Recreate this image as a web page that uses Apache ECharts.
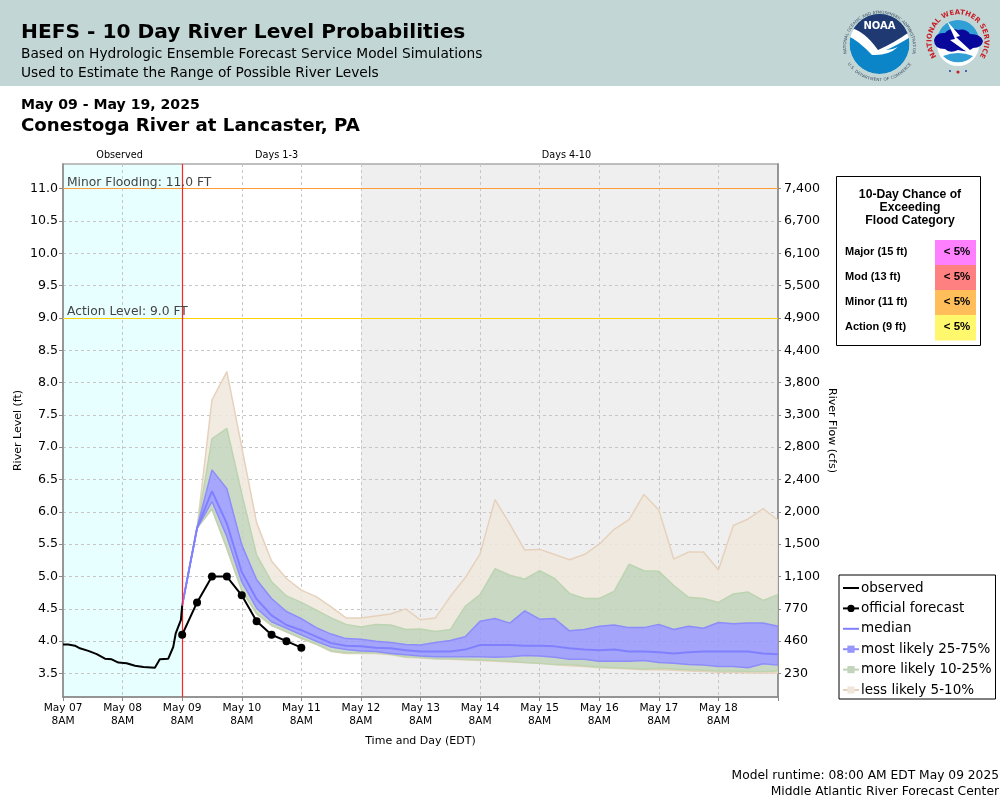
<!DOCTYPE html>
<html>
<head>
<meta charset="utf-8">
<title>HEFS</title>
<script src="https://cdn.jsdelivr.net/npm/echarts@6/dist/echarts.min.js"></script>
<style>
html, body { margin: 0; padding: 0; background: #fff; }
#wrap { position: relative; width: 1000px; height: 800px; overflow: hidden; }
#main { width: 1000px; height: 800px; }
#logos { position: absolute; left: 800px; top: 0; }
</style>
</head>
<body>
<div id="wrap">
<div id="main"></div>
<svg id="logos" width="200" height="86" viewBox="800 0 200 86">
  <defs>
    <clipPath id="noaaClip"><circle cx="879.5" cy="44" r="30"/></clipPath>
    <path id="noaaTop" d="M 850 63 A 33.5 33.5 0 1 1 909 63"/>
    <path id="noaaBot" d="M 849 60 A 35 35 0 0 0 910 60"/>
    <path id="nwsTop" d="M 936.2 56 A 26.5 26.5 0 1 1 979.8 56"/>
  </defs>
  <g clip-path="url(#noaaClip)">
    <circle cx="879.5" cy="44" r="30" fill="#0b85c8"/>
    <path d="M 848 14 H 911 V 34 Q 900 40 878 52 Q 862 34 848 27 Z" fill="#1f3a72"/>
    <path d="M 848 27 Q 864 30 878 50 Q 896 42 912 30 L 912 36 Q 896 46 886 50 Q 892 50 898 47 Q 888 56 872 55 Q 858 40 848 36 Z" fill="#fff"/>
  </g>
  <text x="879.5" y="29" text-anchor="middle" font-family="DejaVu Sans" font-weight="bold" font-size="10" fill="#fff">NOAA</text>
  <text font-family="DejaVu Sans" font-size="4.1" fill="#3d4a66"><textPath href="#noaaTop" startOffset="50%" text-anchor="middle">NATIONAL OCEANIC AND ATMOSPHERIC ADMINISTRATION</textPath></text>
  <text font-family="DejaVu Sans" font-size="4.1" fill="#3d4a66"><textPath href="#noaaBot" startOffset="50%" text-anchor="middle" dominant-baseline="hanging">U.S. DEPARTMENT OF COMMERCE</textPath></text>

  <circle cx="958" cy="41" r="21" fill="#2f9fd6"/>
  <path d="M 937 45 A 21 21 0 0 0 979 45 Z" fill="#fff"/>
  <path d="M 943 56 A 21 21 0 0 0 973 56 Q 958 50 943 56 Z" fill="#2f9fd6"/>
  <path d="M 934 40 Q 936 32 945 33 Q 950 27 958 30 Q 966 28 970 34 Q 981 34 983 41 Q 982 48 973 48 Q 968 53 958 50 Q 950 54 945 49 Q 934 49 934 40 Z" fill="#08089a"/>
  <path d="M 947 21 L 960 36 L 956 37 L 970 50 L 975 56 L 964 50 L 950 40 L 955 39 Z" fill="#fff"/>
  <text font-family="DejaVu Sans" font-weight="bold" font-size="7" fill="#c8202a"><textPath href="#nwsTop" startOffset="50%" text-anchor="middle">NATIONAL WEATHER SERVICE</textPath></text>
  <circle cx="950" cy="71" r="1" fill="#1f3a9c"/>
  <circle cx="966" cy="71" r="1" fill="#1f3a9c"/>
  <circle cx="958" cy="72" r="1.6" fill="#c8202a"/>
</svg>
</div>
<script>
// river level values, forecast steps are 6 hours from May 09 8AM
var dayLabels = ['May 07\n8AM', 'May 08\n8AM', 'May 09\n8AM', 'May 10\n8AM', 'May 11\n8AM', 'May 12\n8AM', 'May 13\n8AM', 'May 14\n8AM', 'May 15\n8AM', 'May 16\n8AM', 'May 17\n8AM', 'May 18\n8AM'];
var levelTicks = [3.5, 4, 4.5, 5, 5.5, 6, 6.5, 7, 7.5, 8, 8.5, 9, 9.5, 10, 10.5, 11];
var flowTicks = ['230', '460', '770', '1,100', '1,500', '2,000', '2,400', '2,800', '3,300', '3,800', '4,400', '4,900', '5,500', '6,100', '6,700', '7,400'];

var obsHours = [0, 2.1, 4.8, 6.8, 10.2, 13.6, 16.9, 19.6, 22.3, 25.6, 29, 32.4, 37, 37.5, 39, 42.4, 44.4, 45.4, 47.5, 48];
var obsLevel = [3.95, 3.95, 3.93, 3.89, 3.85, 3.80, 3.73, 3.72, 3.67, 3.66, 3.62, 3.60, 3.59, 3.57, 3.72, 3.73, 3.91, 4.12, 4.33, 4.55];

var officialLevel = [4.10, 4.60, 5.00, 5.00, 4.71, 4.31, 4.10, 4.00, 3.90];

var q95 = [4.55, 5.75, 7.73, 8.17, 7.00, 5.83, 5.24, 4.97, 4.79, 4.69, 4.53, 4.36, 4.36, 4.39, 4.42, 4.50, 4.33, 4.36, 4.69, 4.98, 5.35, 6.19, 5.81, 5.41, 5.42, 5.34, 5.26, 5.34, 5.50, 5.73, 5.88, 6.27, 6.03, 5.27, 5.38, 5.38, 5.10, 5.79, 5.89, 6.05, 5.87];
var q90 = [4.55, 5.75, 7.13, 7.29, 6.28, 5.33, 4.92, 4.70, 4.60, 4.48, 4.36, 4.26, 4.22, 4.26, 4.25, 4.18, 4.19, 4.15, 4.18, 4.54, 4.72, 5.12, 5.02, 4.96, 5.09, 4.97, 4.74, 4.66, 4.66, 4.77, 5.19, 5.09, 5.08, 4.86, 4.68, 4.66, 4.60, 4.73, 4.76, 4.63, 4.72];
var q75 = [4.55, 5.75, 6.65, 6.36, 5.49, 4.95, 4.66, 4.46, 4.35, 4.21, 4.11, 4.04, 4.03, 4.00, 3.98, 3.95, 3.94, 3.98, 4.01, 4.07, 4.31, 4.35, 4.28, 4.47, 4.34, 4.35, 4.16, 4.18, 4.23, 4.25, 4.21, 4.21, 4.26, 4.18, 4.23, 4.20, 4.29, 4.27, 4.28, 4.28, 4.23];
var median = [4.55, 5.75, 6.32, 5.82, 5.07, 4.65, 4.40, 4.25, 4.17, 4.07, 3.97, 3.93, 3.92, 3.90, 3.89, 3.86, 3.84, 3.84, 3.84, 3.87, 3.94, 3.94, 3.94, 3.93, 3.93, 3.92, 3.89, 3.87, 3.86, 3.87, 3.84, 3.84, 3.83, 3.81, 3.83, 3.84, 3.84, 3.84, 3.84, 3.81, 3.80];
var q25 = [4.55, 5.75, 6.16, 5.62, 4.92, 4.51, 4.30, 4.20, 4.10, 4.00, 3.91, 3.87, 3.85, 3.84, 3.81, 3.79, 3.77, 3.76, 3.76, 3.76, 3.76, 3.75, 3.76, 3.78, 3.77, 3.75, 3.72, 3.72, 3.69, 3.69, 3.69, 3.70, 3.67, 3.66, 3.64, 3.63, 3.61, 3.61, 3.59, 3.65, 3.63];
var q10 = [4.55, 5.75, 6.05, 5.44, 4.79, 4.43, 4.25, 4.15, 4.05, 3.96, 3.85, 3.82, 3.82, 3.82, 3.80, 3.76, 3.75, 3.73, 3.73, 3.72, 3.71, 3.70, 3.69, 3.67, 3.66, 3.64, 3.64, 3.62, 3.60, 3.59, 3.58, 3.57, 3.58, 3.57, 3.56, 3.55, 3.54, 3.54, 3.53, 3.53, 3.54];
var q05 = [4.55, 5.75, 6.04, 5.43, 4.78, 4.42, 4.24, 4.14, 4.04, 3.95, 3.84, 3.81, 3.81, 3.81, 3.79, 3.75, 3.74, 3.73, 3.72, 3.71, 3.70, 3.69, 3.68, 3.67, 3.66, 3.64, 3.62, 3.61, 3.59, 3.58, 3.57, 3.56, 3.56, 3.55, 3.54, 3.53, 3.52, 3.52, 3.51, 3.51, 3.51];

var floodNames = ['Major (15 ft)', 'Mod (13 ft)', 'Minor (11 ft)', 'Action (9 ft)'];
var floodChance = ['< 5%', '< 5%', '< 5%', '< 5%'];
var floodColors = ['#ff80ff', '#ff8080', '#ffbe5a', '#fff76c'];

var SANS = 'DejaVu Sans';
var ARIAL = 'Liberation Sans';
var TAN = '#f0e7dc', GREEN = '#c2d4bb', BLUE = '#9696fc';
var TAN_LINE = '#e6d2bc', GREEN_LINE = '#bcd4b0', BLUE_LINE = '#8c8cfb';
var GRID = '#c6c6c6';

function fcHour(i) { return 48 + 6 * i; }
function pts(arr) {
    return arr.map(function (v, i) { return [fcHour(i), v]; });
}
// one polygon between two level lists, drawn once through the axis scales
function fill(name, top, bot, color) {
    return {
        name: name, type: 'custom', silent: true, z: 3,
        data: top.map(function (v, i) { return [fcHour(i), v, bot[i]]; }),
        encode: { x: 0, y: [1, 2] },
        renderItem: function (params, api) {
            if (params.dataIndex !== 0) { return; }
            var upper = top.map(function (v, i) { return api.coord([fcHour(i), v]); });
            var lower = bot.map(function (v, i) { return api.coord([fcHour(i), v]); }).reverse();
            return {
                type: 'polygon',
                shape: { points: upper.concat(lower) },
                style: { fill: color, opacity: 0.85 }
            };
        }
    };
}
function edge(name, arr, color, swatch, width) {
    return {
        name: name, type: 'line', symbol: swatch ? 'rect' : 'none', showSymbol: false,
        data: pts(arr),
        lineStyle: { color: color, width: width || 1.5 },
        itemStyle: { color: swatch || color },
        z: 4
    };
}

var series = [
    // background regions and their heading labels
    {
        name: 'regions', type: 'line', data: [], silent: true,
        markArea: {
            silent: true, z: -1,
            label: { position: 'top', distance: 4, fontFamily: SANS, fontSize: 9.7, color: '#000' },
            data: [
                [{ xAxis: 0, name: 'Observed', itemStyle: { color: '#e8ffff' }, label: { offset: [-3, 0] } }, { xAxis: 48 }],
                [{ xAxis: 48, name: 'Days 1-3', itemStyle: { color: 'rgba(255,255,255,0)' }, label: { offset: [5, 0] } }, { xAxis: 120 }],
                [{ xAxis: 120, name: 'Days 4-10', itemStyle: { color: '#efefef' }, label: { offset: [-3, 0] } }, { xAxis: 288 }]
            ]
        }
    },
    fill('tan low', q10, q05, TAN),
    fill('green low', q25, q10, GREEN),
    fill('blue', q75, q25, BLUE),
    fill('green high', q90, q75, GREEN),
    fill('tan high', q95, q90, TAN),
    edge('less likely 5-10%', q95, TAN_LINE, TAN),
    edge('q05', q05, TAN_LINE),
    edge('more likely 10-25%', q90, GREEN_LINE, GREEN),
    edge('q10', q10, GREEN_LINE),
    edge('most likely 25-75%', q75, BLUE_LINE, BLUE),
    edge('q25', q25, BLUE_LINE),
    edge('median', median, '#8080ff', null, 2),
    {
        name: 'thresholds', type: 'line', data: [], silent: true,
        markLine: {
            silent: true, symbol: 'none', animation: false,
            label: { position: 'insideStartTop', distance: [4, 0], fontFamily: SANS, fontSize: 12.3, color: '#444' },
            data: [
                { yAxis: 11, name: 'Minor Flooding: 11.0 FT', lineStyle: { color: '#ff9c33', type: 'solid', width: 1.2 }, label: { formatter: '{b}' } },
                { yAxis: 9, name: 'Action Level: 9.0 FT', lineStyle: { color: '#ffd400', type: 'solid', width: 1.2 }, label: { formatter: '{b}' } },
                { xAxis: 48, lineStyle: { color: '#ff2020', type: 'solid', width: 1.2 }, label: { show: false } }
            ]
        },
        z: 5
    },
    {
        name: 'observed', type: 'line', symbol: 'none',
        data: obsHours.map(function (h, i) { return [h, obsLevel[i]]; }),
        lineStyle: { color: '#000', width: 2 }, itemStyle: { color: '#000' }, z: 6
    },
    {
        name: 'official forecast', type: 'line', symbol: 'circle', symbolSize: 8,
        data: pts(officialLevel),
        lineStyle: { color: '#000', width: 2 }, itemStyle: { color: '#000' }, z: 7
    }
];

// flood category table, drawn as plain graphics
var graphics = [
    { type: 'rect', shape: { x: 0, y: 0, width: 1000, height: 86 }, style: { fill: '#c2d7d5' }, z: 1 },
    { type: 'rect', shape: { x: 836.5, y: 176.5, width: 144, height: 169 }, style: { fill: '#fff', stroke: '#000', lineWidth: 1 }, z: 1 }
];
function txt(x, y, s, font, align, color) {
    graphics.push({
        type: 'text', x: x, y: y, z: 2,
        style: { text: s, font: font, fill: color || '#000', textAlign: align || 'left', textVerticalAlign: 'middle' }
    });
}
txt(21, 33, 'HEFS - 10 Day River Level Probabilities', 'bold 20.2px "' + SANS + '"');
txt(21, 54, 'Based on Hydrologic Ensemble Forecast Service Model Simulations', '13.75px "' + SANS + '"');
txt(21, 73, 'Used to Estimate the Range of Possible River Levels', '13.75px "' + SANS + '"');
txt(21, 105, 'May 09 - May 19, 2025', 'bold 14.1px "' + SANS + '"');
txt(21, 126, 'Conestoga River at Lancaster, PA', 'bold 18.2px "' + SANS + '"');
txt(999, 776, 'Model runtime: 08:00 AM EDT May 09 2025', '12.25px "' + SANS + '"', 'right');
txt(999, 792, 'Middle Atlantic River Forecast Center', '12.3px "' + SANS + '"', 'right');
txt(910, 195, '10-Day Chance of', 'bold 12.2px "' + ARIAL + '"', 'center');
txt(910, 208, 'Exceeding', 'bold 12.2px "' + ARIAL + '"', 'center');
txt(910, 221, 'Flood Category', 'bold 12.2px "' + ARIAL + '"', 'center');
floodNames.forEach(function (name, i) {
    var top = 240 + i * 25;
    graphics.push({ type: 'rect', shape: { x: 935, y: top, width: 41, height: 25.5 }, style: { fill: floodColors[i] }, z: 2 });
    txt(845, top + 11.5, name, 'bold 11px "' + ARIAL + '"');
    txt(957, top + 11.5, floodChance[i], 'bold 11.5px "' + ARIAL + '"', 'center');
});

function hideSwatch(name) {
    return { name: name, itemStyle: { opacity: 0 } };
}

var myChart = echarts.init(document.getElementById('main'), null, { renderer: 'canvas' });
var option = {
    animation: false,
    backgroundColor: '#fff',
    textStyle: { fontFamily: SANS },
    grid: { left: 63, right: 222, top: 164, bottom: 103, outerBoundsMode: 'none', show: true, borderColor: '#aaa', borderWidth: 1.5, backgroundColor: 'transparent' },
    xAxis: {
        type: 'value', min: 0, max: 288, interval: 24,
        name: 'Time and Day (EDT)', nameLocation: 'middle', nameGap: 39,
        nameTextStyle: { fontFamily: SANS, fontSize: 11, color: '#000' },
        axisLine: { onZero: false, lineStyle: { color: '#888', width: 1.5 } },
        axisTick: { length: 4, lineStyle: { color: '#888' } },
        axisLabel: {
            margin: 5, fontFamily: SANS, fontSize: 10.6, lineHeight: 13, color: '#000', hideOverlap: false, showMaxLabel: true, showMinLabel: true,
            formatter: function (v) { return dayLabels[v / 24] || ''; }
        },
        splitLine: { show: true, lineStyle: { color: GRID, type: [3, 3], width: 1 } }
    },
    yAxis: [
        {
            type: 'value', min: 3.137, max: 11.38,
            name: 'River Level (ft)', nameLocation: 'middle', nameGap: 39, nameMoveOverlap: false,
            nameTextStyle: { fontFamily: SANS, fontSize: 11, color: '#000' },
            axisLine: { show: true, lineStyle: { color: '#888', width: 1.5 } },
            axisTick: { show: true, length: 4, customValues: levelTicks, lineStyle: { color: '#888' } },
            axisLabel: {
                customValues: levelTicks, margin: 5, fontFamily: SANS, fontSize: 12.6, color: '#000', padding: [2, 0, 0, 0],
                formatter: function (v) { return v.toFixed(1); }
            },
            splitLine: { show: true, lineStyle: { color: GRID, type: [3, 3], width: 1 } }
        },
        {
            type: 'value', min: 3.137, max: 11.38, position: 'right',
            name: 'River Flow (cfs)', nameLocation: 'middle', nameGap: 48, nameRotate: -90, nameMoveOverlap: false,
            nameTextStyle: { fontFamily: SANS, fontSize: 11, color: '#000' },
            axisLine: { show: true, lineStyle: { color: '#888', width: 1.5 } },
            axisTick: { show: true, length: 3, customValues: levelTicks, lineStyle: { color: '#888' } },
            axisLabel: {
                customValues: levelTicks, margin: 6, fontFamily: SANS, fontSize: 12.6, color: '#000', padding: [2, 0, 0, 0],
                formatter: function (v) { return flowTicks[levelTicks.indexOf(v)]; }
            },
            splitLine: { show: false }
        }
    ],
    legend: {
        orient: 'vertical', left: 839, top: 575,
        backgroundColor: '#fff', borderColor: '#000', borderWidth: 1, padding: [6, 4, 2, 3], borderRadius: 0,
        itemWidth: 16, itemHeight: 9, itemGap: 6.4,
        textStyle: { fontFamily: SANS, fontSize: 13.5, color: '#000', padding: [0, 0, 0, -3] },
        selectedMode: false,
        data: [
            hideSwatch('observed'),
            { name: 'official forecast' },
            hideSwatch('median'),
            { name: 'most likely 25-75%' },
            { name: 'more likely 10-25%' },
            { name: 'less likely 5-10%' }
        ]
    },
    graphic: graphics,
    series: series
};
myChart.setOption(option);
</script>
</body>
</html>
